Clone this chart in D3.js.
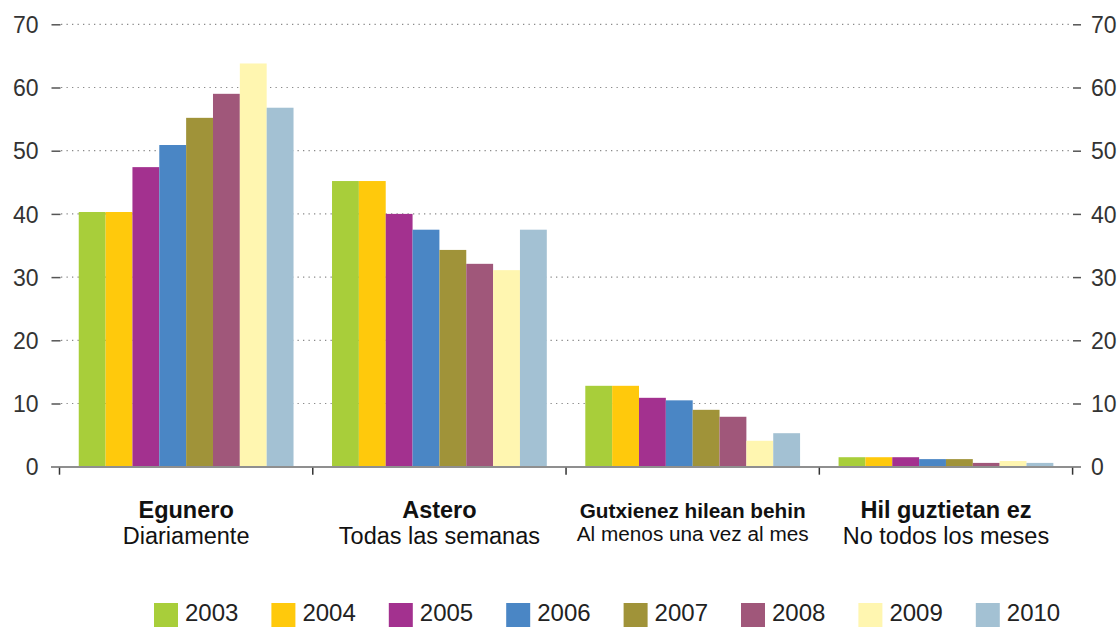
<!DOCTYPE html>
<html><head><meta charset="utf-8">
<script src="https://cdn.jsdelivr.net/npm/d3@7"></script>
<style>
html,body{margin:0;padding:0;background:#fff;}
svg{display:block;font-family:"Liberation Sans",Arial,sans-serif;}
</style></head>
<body>
<svg id="chart" width="1120" height="627"></svg>
<script>
const categoriesEu = ["Egunero","Astero","Gutxienez hilean behin","Hil guztietan ez"];
const categoriesEs = ["Diariamente","Todas las semanas","Al menos una vez al mes","No todos los meses"];
const years = ["2003","2004","2005","2006","2007","2008","2009","2010"];
const v2003 = [40.3, 45.2, 12.8, 1.5];
const v2004 = [40.3, 45.2, 12.8, 1.5];
const v2005 = [47.4, 40.0, 10.9, 1.5];
const v2006 = [50.9, 37.5, 10.5, 1.2];
const v2007 = [55.2, 34.3, 9.0, 1.2];
const v2008 = [59.0, 32.1, 7.9, 0.6];
const v2009 = [63.8, 31.1, 4.1, 0.9];
const v2010 = [56.8, 37.5, 5.3, 0.6];
const yTicks = [0,10,20,30,40,50,60,70];
const colors = ["#a8ce3a","#ffc90c","#a3318f","#4a86c5","#a09339","#a0577a","#fff6b0","#a3c1d3"];

const series = [v2003,v2004,v2005,v2006,v2007,v2008,v2009,v2010];
const svg = d3.select("#chart");

const plotL = 59.5, plotR = 1072.6, yTop = 24.3, yBot = 466.7;
const y = d3.scaleLinear().domain([0,70]).range([yBot, yTop]);
const x0 = d3.scaleBand().domain(categoriesEu).range([plotL, plotR]).padding(0);
const bw = x0.bandwidth();
const x1 = d3.scaleBand().domain(years).range([bw*0.076, bw*0.924]).padding(0);

// gridlines
const grid = svg.append("g");
grid.selectAll("line").data(yTicks.filter(d=>d>0)).join("line")
  .attr("x1", 61).attr("x2", 1073)
  .attr("y1", d=>y(d)).attr("y2", d=>y(d))
  .attr("stroke", "#8a8a8a").attr("stroke-width", 1.2)
  .attr("stroke-dasharray", "1.3,4.2");

// left and right axes (ticks only)
const leftAxis = d3.axisLeft(y).tickValues(yTicks).tickSize(9).tickPadding(13);
const gl = svg.append("g").attr("transform", "translate(60.5,0)").call(leftAxis);
gl.select(".domain").remove();
gl.selectAll(".tick line").attr("stroke", "#555").attr("stroke-width", 1.5);
gl.selectAll(".tick text").attr("font-size", 23).attr("fill", "#333")
  .attr("font-family", "Liberation Sans, Arial, sans-serif").attr("dy", "0.36em");

const rightAxis = d3.axisRight(y).tickValues(yTicks).tickSize(8).tickPadding(10);
const gr = svg.append("g").attr("transform", "translate(1073,0)").call(rightAxis);
gr.select(".domain").remove();
gr.selectAll(".tick line").attr("stroke", "#555").attr("stroke-width", 1.5);
gr.selectAll(".tick text").attr("font-size", 23).attr("fill", "#333")
  .attr("font-family", "Liberation Sans, Arial, sans-serif").attr("dy", "0.36em");

// bars
const groups = svg.append("g").selectAll("g").data(categoriesEu).join("g")
  .attr("transform", d => `translate(${x0(d)},0)`);
groups.selectAll("rect").data((c,ci) => years.map((yr,yi)=>({yr, yi, v: series[yi][ci]}))).join("rect")
  .attr("x", d => x1(d.yr))
  .attr("width", x1.bandwidth())
  .attr("y", d => y(d.v))
  .attr("height", d => yBot - y(d.v))
  .attr("fill", d => colors[d.yi]);

// baseline
svg.append("line").attr("x1", 51).attr("x2", 1081).attr("y1", yBot+0.3).attr("y2", yBot+0.3)
  .attr("stroke", "#8f8f8f").attr("stroke-width", 2);

// category ticks
const catEdges = categoriesEu.map(c=>x0(c)).concat([plotR]);
svg.append("g").selectAll("line").data(catEdges).join("line")
  .attr("x1", d=>d).attr("x2", d=>d).attr("y1", yBot+1).attr("y2", yBot+8)
  .attr("stroke", "#333").attr("stroke-width", 1.5);

// category labels
const maxW = 232;
categoriesEu.forEach((c,i)=>{
  const cx = x0(c) + bw/2;
  const g = svg.append("g");
  let fs = 23.5;
  const t1 = g.append("text").attr("x", cx).attr("y", 518).attr("text-anchor","middle")
    .attr("font-weight","bold").attr("font-size", fs).attr("fill","#111").text(c);
  const t2 = g.append("text").attr("x", cx).attr("text-anchor","middle")
    .attr("font-size", fs).attr("fill","#111").text(categoriesEs[i]);
  const w = Math.max(t1.node().getComputedTextLength(), t2.node().getComputedTextLength());
  if (w > maxW) { fs = fs * maxW / w; t1.attr("font-size", fs); t2.attr("font-size", fs); }
  t2.attr("y", 518 + fs*1.1);
});

// legend
const legend = svg.append("g");
const step = 117.4;
years.forEach((yr,i)=>{
  const lx = 154 + i*step;
  legend.append("rect").attr("x", lx).attr("y", 603).attr("width", 24).attr("height", 24).attr("fill", colors[i]);
  legend.append("text").attr("x", lx + 31).attr("y", 621).attr("font-size", 24).attr("fill", "#222").text(yr);
});
</script>
</body></html>
